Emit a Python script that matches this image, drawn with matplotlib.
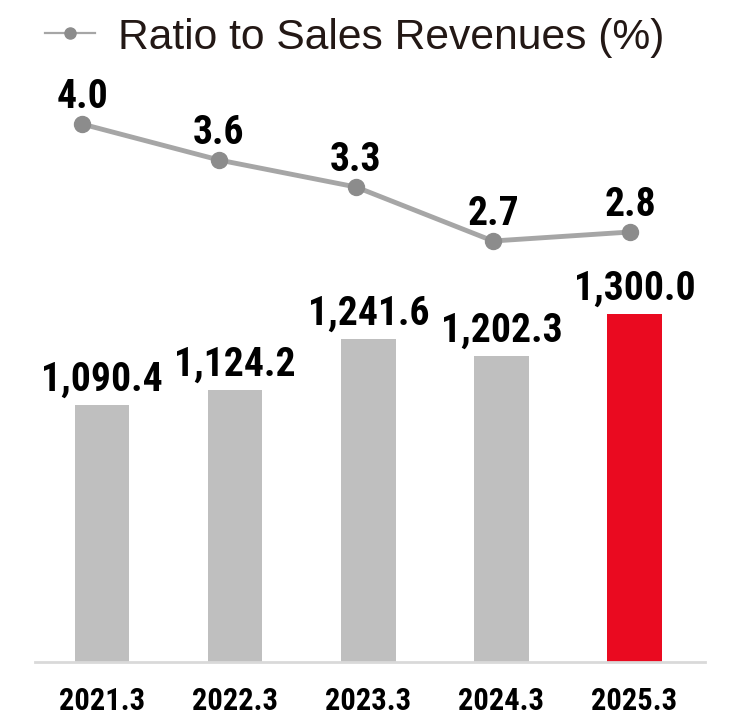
import numpy as np
import matplotlib
matplotlib.use("Agg")
import matplotlib.pyplot as plt
from matplotlib.lines import Line2D

# ── data ──────────────────────────────────────────────────────────────────────
years    = ["2021.3", "2022.3", "2023.3", "2024.3", "2025.3"]
expenses = [1090.4, 1124.2, 1241.6, 1202.3, 1300.0]
ratio    = [4.0, 3.6, 3.3, 2.7, 2.8]
exp_lbl  = ["1,090.4", "1,124.2", "1,241.6", "1,202.3", "1,300.0"]
rat_lbl  = ["4.0", "3.6", "3.3", "2.7", "2.8"]

plt.rcParams["font.family"] = ["Roboto Condensed", "DejaVu Sans"]

W, H = 744, 717
fig = plt.figure(figsize=(W / 100, H / 100), dpi=100)

# axes box in pixels: x 35..705, y from 662 (baseline) up to top
left, right, base = 35, 705, 662
rect = [left / W, (H - base) / H, (right - left) / W, base / H]

# ── bars ──────────────────────────────────────────────────────────────────────
ax = fig.add_axes(rect)
x = np.arange(len(years))
colors = ["#BFBFBF"] * 4 + ["#EA0A20"]
ax.bar(x, expenses, width=0.41, color=colors, zorder=2)
ax.set_xlim(-0.504, 4.53)
ax.set_ylim(498, 498 + base / 0.434)
for xi, v, s in zip(x, expenses, exp_lbl):
    ax.annotate(s, (xi, v), xytext=(0, 10.5), textcoords="offset points",
                ha="center", va="baseline", fontsize=28.5, fontweight="bold")
ax.set_xticks(x)
ax.set_xticklabels(years, fontsize=22, fontweight="bold")
ax.tick_params(axis="x", length=0, pad=17)
ax.set_yticks([])
for s in ["top", "left", "right"]:
    ax.spines[s].set_visible(False)
ax.spines["bottom"].set_color("#D9D9D9")
ax.spines["bottom"].set_linewidth(2)
ax.patch.set_alpha(0)

# ── ratio line (own x scale) ──────────────────────────────────────────────────
ax2 = fig.add_axes(rect)
ax2.plot(x, ratio, color="#A6A6A6", lw=3.5, marker="o", ms=11.5,
         mfc="#8C8C8C", mec="#8C8C8C", zorder=3)
ax2.set_xlim((left - 82) / 137, (right - 82) / 137)
ax2.set_ylim(4.0 - (base - 124) / 90, 4.0 - (base - 124) / 90 + base / 90)
for xi, v, s in zip(x, ratio, rat_lbl):
    ax2.annotate(s, (xi, v), xytext=(0, 11.5), textcoords="offset points",
                 ha="center", va="baseline", fontsize=28.5, fontweight="bold")
ax2.axis("off")

# ── legend (drawn by hand) ────────────────────────────────────────────────────
fig.add_artist(Line2D([45 / W, 95 / W], [1 - 33 / H] * 2, color="#A6A6A6", lw=1.6))
fig.add_artist(Line2D([70 / W], [1 - 33 / H], marker="o", ms=8,
                      mfc="#8C8C8C", mec="#8C8C8C"))
fig.text(118 / W, 1 - 49 / H, "Ratio to Sales Revenues (%)", fontsize=30.7,
         family="Liberation Sans", color="#231815", va="baseline", ha="left")

fig.savefig("out.png", dpi=100)
